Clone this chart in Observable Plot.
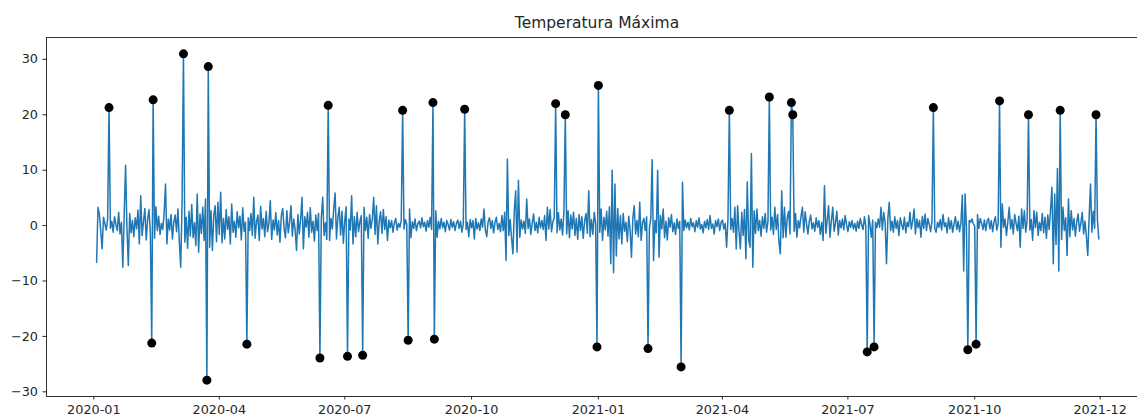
<!DOCTYPE html>
<html><head><meta charset="utf-8">
<script src="https://cdn.jsdelivr.net/npm/d3@7"></script>
<script src="https://cdn.jsdelivr.net/npm/@observablehq/plot@0.6"></script>
<style>
html,body{margin:0;padding:0;background:#fff;overflow:hidden;}
#wrap{position:relative;width:1137px;height:416px;}
#title{position:absolute;left:46px;width:1102px;top:16px;text-align:center;font-family:"DejaVu Sans";font-size:15.5px;line-height:1;color:#262626;white-space:nowrap;}
</style></head><body>
<div id="wrap"><div id="title"></div></div>
<script>
const chartTitle = "Temperatura Máxima";
const startDate = "2020-01-03";
// daily values, one per day from startDate
const values = [
-6.6,3.3,2.1,-1.0,-4.2,1.5,0.3,-0.8,1.2,21.3,
-0.5,0.8,-1.2,1.6,0.2,-0.9,2.4,-1.5,0.6,-7.5,
1.8,10.9,-0.4,-7.2,2.2,-1.3,0.9,-2.0,1.4,-0.6,
2.8,-3.3,5.4,-1.8,0.7,3.1,-2.6,1.1,2.9,-1.4,
-21.2,22.7,-2.3,3.4,-0.9,1.7,-1.6,0.4,-0.7,2.3,
7.5,-3.3,1.2,-0.8,2.0,-2.4,0.6,1.9,-1.1,3.0,
-2.8,-7.5,4.2,31.0,-3.0,1.5,-4.1,2.6,-1.9,3.8,
-2.2,0.5,-3.6,5.7,-4.8,2.1,-1.4,3.3,-2.7,4.8,
-27.9,28.7,-3.9,2.7,-4.5,1.8,3.6,-2.9,4.2,-1.6,
6.0,-3.1,1.3,-2.4,2.9,-0.7,1.6,-3.3,3.9,-1.2,
0.8,-2.1,2.5,-0.4,1.7,-2.6,3.2,-1.0,0.6,-21.4,
1.4,-0.9,2.2,-1.8,5.1,-2.3,0.7,1.9,-2.7,3.5,
-0.6,1.3,-2.0,2.6,-1.1,0.4,4.5,-2.5,1.0,-0.8,
2.3,-1.7,0.9,-3.0,1.8,3.1,-0.5,-2.2,2.7,-1.3,
0.6,3.6,-1.9,1.2,-0.7,-4.5,2.0,-1.5,1.1,5.1,
-4.2,1.6,-0.3,2.4,-2.1,3.2,-1.2,0.8,-2.8,1.9,
-0.9,2.2,-23.9,1.4,5.1,-1.8,0.5,-2.5,21.7,-2.7,
1.3,-0.6,3.0,5.9,-2.4,1.5,3.3,-1.7,2.6,-3.2,
0.9,3.4,-23.6,1.2,-0.8,5.4,-3.3,1.6,-2.0,2.4,
-1.1,0.7,1.8,-23.4,3.3,-0.9,1.5,-2.3,2.0,-0.5,
1.2,5.1,-1.6,3.6,-3.3,0.8,2.5,-1.4,2.9,-0.7,
1.6,-2.7,1.0,-0.4,0.9,-1.2,0.5,1.3,-0.8,0.4,
-0.3,0.9,20.8,-0.6,1.1,0.2,-20.7,3.0,-2.2,0.7,
-0.5,1.2,-0.9,0.3,0.8,-0.4,1.4,-0.2,0.6,-1.0,
0.9,-0.3,1.5,-0.7,22.2,-20.5,2.7,-2.1,0.8,-0.6,
1.3,-0.4,0.6,-1.1,0.9,0.2,-0.8,1.1,-0.3,0.7,
-0.9,0.4,1.0,-0.5,0.8,-1.2,0.3,21.0,-0.7,0.6,
-2.0,1.1,-0.4,0.9,-2.4,1.3,-0.6,0.5,-0.9,1.2,
-0.3,3.0,-0.8,-2.0,0.7,1.4,-0.5,0.9,-1.3,0.6,
1.5,-0.7,0.4,-1.1,1.8,-0.9,2.4,-6.3,12.0,-1.8,
1.1,-2.2,-5.1,2.6,6.3,-4.8,8.2,-2.1,1.0,-0.6,
0.8,-1.4,4.8,-0.5,1.2,-1.6,0.4,2.1,-0.9,0.6,
-1.3,1.5,-0.4,0.9,-0.7,1.8,-2.7,3.3,-0.6,2.9,
-1.1,0.7,1.4,22.0,-1.3,2.3,-0.8,1.2,-1.7,2.6,
20.0,-1.5,2.7,-2.2,1.9,-0.6,2.4,-1.8,1.3,-2.5,
2.0,-0.9,1.6,-2.3,0.8,2.2,-1.4,6.3,-2.0,1.1,
-1.6,2.4,0.3,-21.9,25.3,-1.2,3.0,-2.7,1.5,-0.8,
2.6,-1.9,3.4,-6.9,10.0,-8.5,7.5,-5.5,3.1,-2.4,
1.8,-3.3,2.2,-1.0,0.6,-2.9,1.7,-0.8,-5.7,1.4,
3.6,-1.5,0.9,-2.0,4.2,-2.7,0.5,1.3,-0.9,1.6,
-22.2,-0.4,1.2,11.9,-6.3,0.9,-1.3,10.0,-5.7,1.8,
-0.6,3.0,-2.2,0.8,-2.6,1.4,-0.3,2.0,-1.1,0.5,
-1.6,1.2,-0.5,0.8,-25.5,7.8,-0.9,1.0,-0.4,0.6,
-0.8,1.3,-0.2,0.5,-1.1,0.9,-0.3,1.4,-0.6,0.2,
-1.3,0.8,-0.4,1.1,-0.7,1.8,-0.5,0.3,-1.5,0.9,
-0.2,1.2,-0.9,0.6,1.0,-0.6,0.4,-3.9,1.1,20.8,
-0.7,1.3,-1.2,3.3,-4.2,3.6,-1.0,-4.2,2.4,-1.8,
2.9,-6.0,7.9,-2.5,-3.9,13.0,-7.5,2.7,-1.4,3.0,
-0.9,0.9,-1.9,1.6,-0.5,2.2,-1.2,0.7,23.2,-0.8,
1.5,-1.6,3.3,-0.7,2.0,-3.0,-5.1,6.3,-2.2,3.3,
-2.1,1.4,2.6,-1.5,22.2,20.0,-1.0,2.2,-2.1,0.9,
-0.4,1.7,3.3,-1.2,2.5,0.4,-1.5,0.8,1.9,-0.6,
0.5,-1.0,1.4,-0.3,0.9,-1.6,0.6,-2.7,7.2,-1.4,
1.0,3.6,-2.1,0.8,3.3,-1.0,0.5,2.6,-1.7,0.9,
-0.4,1.2,-0.8,1.8,0.2,-1.1,0.7,-0.3,0.9,-0.6,
0.4,-1.0,0.8,-0.5,1.3,0.1,-0.7,1.6,-0.2,-22.8,
1.8,0.3,-2.1,1.0,-21.9,0.6,-0.4,1.2,-0.3,3.3,
-0.8,2.4,0.5,-6.9,1.3,4.2,-0.9,0.8,-1.2,1.6,
-0.5,0.9,-1.8,1.4,0.2,-0.7,1.5,-1.3,0.6,-0.2,
2.4,-0.6,0.8,3.0,-1.5,1.2,-0.4,0.9,-2.1,1.7,
-0.5,2.1,-0.9,1.3,0.2,-1.1,0.7,21.3,-0.5,-1.2,
0.6,-0.3,1.1,-0.8,2.0,-0.2,0.5,-1.3,1.4,-0.6,
0.9,-1.2,0.3,1.6,-0.7,0.8,-1.1,0.5,5.5,-8.2,
5.7,-0.4,-22.4,0.9,0.6,1.2,0.3,-0.1,-21.4,2.0,
-0.5,1.3,0.4,-0.7,1.0,-0.9,0.8,1.3,-0.6,0.9,
-1.1,0.7,1.6,-0.8,0.4,22.5,-3.9,3.9,-0.3,1.2,
-1.8,0.6,3.3,-0.6,1.1,-1.5,2.0,0.4,-0.9,1.7,
-3.9,3.0,-0.5,2.7,-1.2,0.9,20.0,-0.8,1.1,-2.7,
2.7,-0.4,2.4,-1.8,0.6,-0.9,2.2,-1.3,1.5,-2.3,
1.9,-0.7,2.8,6.9,-6.9,5.7,-3.4,10.3,-8.2,20.8,
-2.5,3.3,-0.9,1.4,-5.4,4.8,-2.0,2.7,-0.8,1.3,
-1.9,0.7,2.1,-1.0,0.5,2.4,-1.5,0.8,-2.0,-5.4,
1.6,7.5,-1.2,2.6,-0.5,20.0,1.1,-2.4
];
const xTickDates = ["2020-01-01","2020-04-01","2020-07-01","2020-10-01","2021-01-01","2021-04-01","2021-07-01","2021-10-01","2021-12-31"];
const xTickLabels = ["2020-01","2020-04","2020-07","2020-10","2021-01","2021-04","2021-07","2021-10","2021-12"];
const yTicks = [-30,-20,-10,0,10,20,30];
const outlierThreshold = 19;

document.getElementById("title").textContent = chartTitle;

const t0 = new Date(startDate);
const data = values.map((v, i) => ({date: d3.utcDay.offset(t0, i), value: v}));
const outliers = data.filter(d => Math.abs(d.value) >= outlierThreshold);

const [xa, xb] = d3.extent(data, d => d.date);
const xpad = (xb - xa) * 0.05;
const [ya, yb] = d3.extent(values);
const ypad = (yb - ya) * 0.05;

const tickDates = xTickDates.map(s => new Date(s));
const labelMap = new Map(tickDates.map((d, i) => [+d, xTickLabels[i]]));

const chart = Plot.plot({
  width: 1137,
  height: 416,
  marginLeft: 46,
  marginRight: 0,
  marginTop: 37,
  marginBottom: 20,
  style: {fontFamily: "DejaVu Sans", fontSize: "12.8px", color: "#262626", background: "#fff", overflow: "hidden"},
  x: {type: "utc", domain: [new Date(+xa - xpad), new Date(+xb + xpad)], range: [46, 1148.4], label: null},
  y: {domain: [ya - ypad, yb + ypad], label: null},
  marks: [
    Plot.axisY({ticks: yTicks, tickSize: 3.5, tickPadding: 5, label: null, stroke: "#262626"}),
    Plot.axisX({ticks: tickDates, tickFormat: d => labelMap.get(+d), tickSize: 3.5, tickPadding: 4.5, label: null, stroke: "#262626"}),
    Plot.lineY(data, {x: "date", y: "value", stroke: "#1f77b4", strokeWidth: 1.5}),
    Plot.dot(outliers, {x: "date", y: "value", fill: "#000", r: 4.5}),
    Plot.frame({anchor: "top", stroke: "#333", strokeWidth: 1}),
    Plot.frame({anchor: "bottom", stroke: "#333", strokeWidth: 1}),
    Plot.frame({anchor: "left", stroke: "#333", strokeWidth: 1})
  ]
});
document.getElementById("wrap").appendChild(chart);
</script>
</body></html>
